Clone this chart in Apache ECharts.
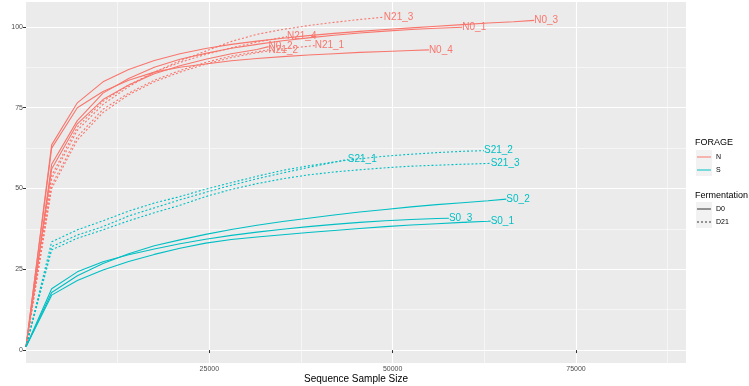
<!DOCTYPE html>
<html>
<head>
<meta charset="utf-8">
<script src="https://cdn.jsdelivr.net/npm/echarts@6/dist/echarts.min.js"></script>
<style>
  html, body { margin: 0; padding: 0; background: #fff; }
  #chart { width: 749px; height: 386px; }
</style>
</head>
<body>
<div id="chart"></div>
<script>
// rarefaction steps (sample size), last point of each curve is its own depth
const steps = [1, 3500, 7000, 10500, 14000, 17500, 21000, 24500, 28000, 31500, 35000,
  38500, 42000, 45500, 49000, 52500, 56000, 59500, 63000, 66500];

const sampleNames = ['N0_1', 'N0_2', 'N0_3', 'N0_4', 'N21_1', 'N21_2', 'N21_3', 'N21_4',
  'S0_1', 'S0_2', 'S0_3', 'S21_1', 'S21_2', 'S21_3'];
const forage = ['N', 'N', 'N', 'N', 'N', 'N', 'N', 'N', 'S', 'S', 'S', 'S', 'S', 'S'];
const fermentation = ['D0', 'D0', 'D0', 'D0', 'D21', 'D21', 'D21', 'D21', 'D0', 'D0', 'D0', 'D21', 'D21', 'D21'];
const sampleSizes = [59500, 33080, 69300, 54940, 39370, 33080, 48800, 35590,
  63360, 65500, 57670, 43880, 62450, 63360];

// species richness read at each step (last value = at the sample size)
const n0_1 = [1, 57.5, 71, 79.5, 84, 87.5, 90, 91.8, 93.4, 94.6, 95.7, 96.6, 97.4, 98.1, 98.7, 99.2, 99.6, 99.9];
const n0_2 = [1, 56, 70, 77.5, 82, 85.5, 88, 90, 91.7, 93, 93.9];
const n0_3 = [1, 63.5, 76.5, 83, 86.8, 89.6, 91.7, 93.3, 94.6, 95.6, 96.5, 97.3, 98, 98.6, 99.2, 99.7, 100.2, 100.7, 101.2, 101.6, 102];
const n0_4 = [1, 62.5, 75, 80, 83.5, 86, 87.5, 88.5, 89.5, 90.2, 90.8, 91.3, 91.7, 92.1, 92.4, 92.7, 92.9];
const n21_1 = [1, 50, 65, 73.5, 79, 83, 86, 88.5, 90.5, 92, 93.2, 94.2];
const n21_2 = [1, 51, 66, 74.5, 79.5, 83.5, 86.5, 89, 91, 92.3, 92.9];
const n21_3 = [1, 53, 68, 76, 81.5, 86, 89.5, 92.5, 95.5, 97.7, 99.2, 100.4, 101.4, 102.3, 103];
const n21_4 = [1, 54, 69, 77, 82, 86, 89, 91.5, 93.5, 95.3, 97];
const s0_1 = [1, 17, 21.5, 24.8, 27.4, 29.6, 31.5, 33.1, 34.2, 35, 35.7, 36.4, 37, 37.6, 38.2, 38.7, 39.1, 39.5, 39.85, 39.9];
const s0_2 = [1, 17.8, 23, 26.8, 29.8, 32.3, 34.1, 35.8, 37.3, 38.6, 39.8, 40.8, 41.8, 42.7, 43.5, 44.3, 45, 45.6, 46.2, 46.7];
const s0_3 = [1, 19, 24.2, 27.3, 29.5, 31.3, 32.9, 34.3, 35.5, 36.5, 37.4, 38.2, 38.9, 39.5, 40, 40.4, 40.7, 40.8];
const s21_1 = [1, 32, 35.6, 38.2, 41.5, 44, 46.5, 48.8, 51, 53, 54.8, 56.5, 58.1, 59];
const s21_2 = [1, 33.5, 37.2, 40, 43, 45.5, 47.5, 49.8, 51.8, 53.8, 55.6, 57, 58.2, 59.2, 60, 60.6, 61.1, 61.5, 61.7];
const s21_3 = [1, 31, 34.6, 37.2, 40, 42.5, 44.8, 47.5, 49.7, 51.5, 53, 54.2, 55.1, 55.8, 56.4, 56.9, 57.2, 57.5, 57.75, 57.8];
const richness = [n0_1, n0_2, n0_3, n0_4, n21_1, n21_2, n21_3, n21_4, s0_1, s0_2, s0_3, s21_1, s21_2, s21_3];

const yTicks = [0, 25, 50, 75, 100];
const yMinor = [12.5, 37.5, 62.5, 87.5];
const xTicks = [25000, 50000, 75000];
const xMinor = [12500, 37500, 62500, 87500];

const colors = { N: '#F8766D', S: '#00BFC4' };

// legend key shapes: a thin line inside a 14x12 box (corner dots keep the box size)
const solidKey = 'path://M0,0h0.05v0.05h-0.05z M0,5.4h14v1.2h-14z M0,11.95h0.05v0.05h-0.05z';
const dashKey = 'path://M0,0h0.05v0.05h-0.05z M0,5.5h2v1h-2z M4,5.5h2v1h-2z M8,5.5h2v1h-2z M12,5.5h2v1h-2z M0,11.95h0.05v0.05h-0.05z';

const myChart = echarts.init(document.getElementById('chart'));

const curves = sampleNames.map((name, i) => {
  const ys = richness[i];
  const data = ys.map((v, j) => [j === ys.length - 1 ? sampleSizes[i] : steps[j], v]);
  const c = colors[forage[i]];
  return {
    name: name,
    type: 'line',
    data: data,
    symbol: 'none',
    silent: true,
    lineStyle: { color: c, width: 1.1, type: fermentation[i] === 'D0' ? 'solid' : [2, 2] },
    itemStyle: { color: c },
    endLabel: {
      show: true,
      formatter: name,
      color: c,
      fontSize: 10,
      fontFamily: 'Liberation Sans',
      distance: 0
    },
    z: 3
  };
});

// empty series only to feed the two legends
const legendSeries = [
  { name: 'N', type: 'line', data: [], symbol: 'none', color: colors.N },
  { name: 'S', type: 'line', data: [], symbol: 'none', color: colors.S },
  { name: 'D0', type: 'line', data: [], symbol: 'none', color: '#333333' },
  { name: 'D21', type: 'line', data: [], symbol: 'none', color: '#333333' }
];

const tickLabel = { color: '#4D4D4D', fontSize: 7, fontFamily: 'Liberation Sans' };
const legendText = { fontSize: 7, color: '#000', fontFamily: 'Liberation Sans' };
const titleText = { fontSize: 9, fontWeight: 'normal', color: '#000', fontFamily: 'Liberation Sans' };

// grey key backgrounds as in the ggplot legend
const keyBox = (y) => ({ type: 'rect', left: 696, top: y, shape: { width: 16, height: 13 }, style: { fill: '#F2F2F2' }, z: -1 });

myChart.setOption({
  animation: false,
  grid: {
    left: 26, right: 63, top: 2, bottom: 23,
    outerBoundsMode: 'none',
    show: true, backgroundColor: '#EBEBEB', borderWidth: 0
  },
  graphic: [keyBox(150), keyBox(163), keyBox(202), keyBox(215)],
  title: [
    { text: 'FORAGE', left: 695, top: 138, textStyle: titleText, padding: 0 },
    { text: 'Fermentation', left: 695, top: 191, textStyle: titleText, padding: 0 }
  ],
  legend: [
    {
      data: [{ name: 'N', icon: solidKey }, { name: 'S', icon: solidKey }],
      orient: 'vertical', left: 697, top: 151, padding: 0,
      itemWidth: 14, itemHeight: 12, itemGap: 1,
      textStyle: legendText, selectedMode: false
    },
    {
      data: [{ name: 'D0', icon: solidKey }, { name: 'D21', icon: dashKey }],
      orient: 'vertical', left: 697, top: 203, padding: 0,
      itemWidth: 14, itemHeight: 12, itemGap: 1,
      textStyle: legendText, selectedMode: false
    }
  ],
  xAxis: [
    {
      type: 'value', min: 0, max: 90000,
      name: 'Sequence Sample Size', nameLocation: 'middle', nameGap: 11,
      nameMoveOverlap: false,
      nameTextStyle: { fontSize: 10, color: '#000', fontFamily: 'Liberation Sans' },
      axisLine: { show: false },
      axisTick: { show: true, customValues: xTicks, length: 3, lineStyle: { color: '#333' } },
      axisLabel: { ...tickLabel, customValues: xTicks, margin: 3, formatter: v => String(v) },
      splitLine: { show: true, lineStyle: { color: '#FFFFFF', width: 1.1 } }
    },
    {
      type: 'value', min: 0, max: 90000, position: 'bottom',
      axisLine: { show: false },
      axisTick: { show: false, customValues: xMinor },
      axisLabel: { show: false, customValues: xMinor },
      splitLine: { show: true, lineStyle: { color: '#FFFFFF', width: 0.55 } }
    }
  ],
  yAxis: [
    {
      type: 'value', min: -4, max: 107.7,
      name: 'Species Richness', nameLocation: 'middle', nameGap: 24, nameRotate: 90,
      nameTextStyle: { fontSize: 10, color: '#000', fontFamily: 'Liberation Sans' },
      axisLine: { show: false },
      axisTick: { show: true, customValues: yTicks, length: 3, lineStyle: { color: '#333' } },
      axisLabel: { ...tickLabel, customValues: yTicks, margin: 3 },
      splitLine: { show: true, lineStyle: { color: '#FFFFFF', width: 1.1 } }
    },
    {
      type: 'value', min: -4, max: 107.7,
      axisLine: { show: false },
      axisTick: { show: false, customValues: yMinor },
      axisLabel: { show: false, customValues: yMinor },
      splitLine: { show: true, lineStyle: { color: '#FFFFFF', width: 0.55 } }
    }
  ],
  series: curves.concat(legendSeries)
});
</script>
</body>
</html>
